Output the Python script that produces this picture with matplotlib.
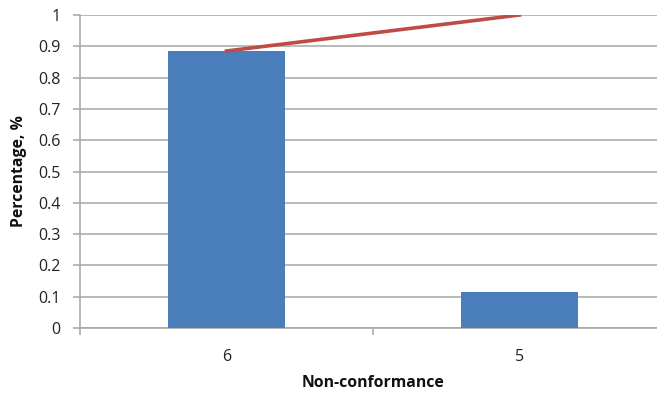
import matplotlib
matplotlib.use("Agg")
import matplotlib.pyplot as plt

categories = ["6", "5"]
shares = [0.885, 0.115]
cumulative = [0.885, 1.0]
y_ticks = [0, 0.1, 0.2, 0.3, 0.4, 0.5, 0.6, 0.7, 0.8, 0.9, 1]
y_tick_labels = ["0", "0.1", "0.2", "0.3", "0.4", "0.5", "0.6", "0.7", "0.8", "0.9", "1"]

plt.rcParams["font.family"] = ["Open Sans", "DejaVu Sans"]

W, H = 657, 394
fig = plt.figure(figsize=(W / 100, H / 100), dpi=100)
left, right, top, bottom = 80, 666, 15, 328
ax = fig.add_axes([left / W, 1 - bottom / H, (right - left) / W, (bottom - top) / H])

grid_color = "#a6a6a6"
x = list(range(len(categories)))
ax.bar(x, shares, width=0.4, color="#4a7ebb", zorder=3)
ax.plot(x, cumulative, color="#be4b48", linewidth=2.6, zorder=4)

ax.set_xlim(-0.5, len(categories) - 0.5)
ax.set_ylim(0, 1)
ax.set_yticks(y_ticks)
ax.set_yticklabels(y_tick_labels)
ax.yaxis.grid(True, color=grid_color, linewidth=1.1, zorder=0)

ax.set_xticks([i + 0.5 for i in range(-1, len(categories))])
ax.set_xticklabels([])
ax.set_xticks(x, minor=True)
ax.set_xticklabels(categories, minor=True)
ax.tick_params(axis="x", which="minor", length=0, pad=15, labelsize=11.5, colors="#222222")
ax.tick_params(axis="x", which="major", length=5, color=grid_color, width=1.1)
ax.tick_params(axis="y", length=5, color=grid_color, width=1.1, pad=9, labelsize=11.5, labelcolor="#222222")

for side in ["top", "right"]:
    ax.spines[side].set_visible(False)
for side in ["left", "bottom"]:
    ax.spines[side].set_color(grid_color)
    ax.spines[side].set_linewidth(1.1)

fig.text(373 / W, 1 - 383 / H, "Non-conformance", ha="center", va="center",
         fontsize=11.3, fontweight="bold", color="#111111")
fig.text(19 / W, 1 - 171 / H, "Percentage, %", ha="center", va="center",
         rotation=90, fontsize=11.3, fontweight="bold", color="#111111")

fig.savefig("out.png", dpi=100)
